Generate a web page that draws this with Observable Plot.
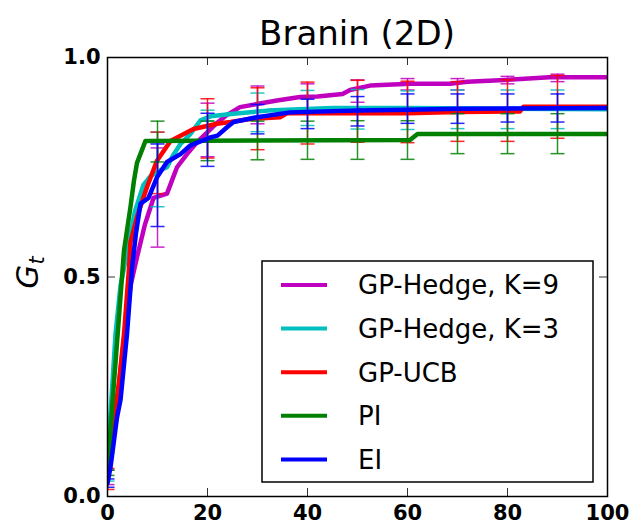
<!DOCTYPE html>
<html><head><meta charset="utf-8">
<script src="https://cdn.jsdelivr.net/npm/d3@7"></script>
<script src="https://cdn.jsdelivr.net/npm/@observablehq/plot@0.6"></script>
<style>body{margin:0;background:#fff;}</style>
</head><body><div id="chart"></div>
<script>
const seriesNames = ["GP-Hedge, K=9", "GP-Hedge, K=3", "GP-UCB", "PI", "EI"];
const seriesColors = ["#bf00bf", "#00bfbf", "#ff0000", "#008000", "#0000ff"];

const tHedge9 = [0, 1, 1.6, 3, 4.6, 5.9, 7.5, 9.2, 10.5, 11.9, 12.9, 13.9, 15.9, 17.9, 20, 22, 24, 26.5, 29.9, 33.9, 38.5, 42, 47, 48.5, 52.5, 60.5, 68.5, 72, 78.4, 88.4, 100];
const gHedge9 = [0.04, 0.12, 0.18, 0.33, 0.48, 0.545, 0.62, 0.68, 0.685, 0.69, 0.72, 0.75, 0.78, 0.807, 0.83, 0.852, 0.87, 0.887, 0.894, 0.902, 0.91, 0.911, 0.917, 0.926, 0.936, 0.94, 0.94, 0.945, 0.948, 0.955, 0.955];

const tHedge3 = [0, 0.5, 1.6, 2.6, 4.3, 5.5, 7.2, 8.6, 10.9, 11.9, 13, 14.6, 16.6, 18.6, 20.6, 25.2, 32, 45, 60, 100];
const gHedge3 = [0.07, 0.17, 0.37, 0.48, 0.58, 0.65, 0.71, 0.73, 0.745, 0.75, 0.775, 0.803, 0.826, 0.857, 0.866, 0.872, 0.879, 0.885, 0.885, 0.882];

const tUCB = [0, 0.9, 2.3, 3.3, 4.3, 4.6, 6, 7.9, 9.9, 12.6, 14.6, 17.2, 21.9, 24.6, 28.5, 34.5, 35.9, 60, 70, 82.5, 83.2, 100];
const gUCB = [0.04, 0.14, 0.26, 0.37, 0.52, 0.58, 0.64, 0.705, 0.765, 0.81, 0.822, 0.837, 0.849, 0.853, 0.86, 0.864, 0.873, 0.873, 0.876, 0.877, 0.888, 0.888];

const tPI = [0, 0.3, 1.3, 2.3, 3.3, 4.6, 5.3, 5.9, 7.6, 60.5, 62, 100];
const gPI = [0.05, 0.105, 0.26, 0.41, 0.56, 0.66, 0.72, 0.76, 0.81, 0.812, 0.826, 0.826];

const tEI = [0, 0.6, 1.9, 2.6, 3.9, 4.9, 5.7, 6.6, 8.2, 9.9, 11.9, 14.6, 16.6, 20.6, 22, 23.9, 25.2, 29.9, 36.5, 50, 60, 70, 100];
const gEI = [0.03, 0.067, 0.18, 0.22, 0.37, 0.52, 0.6, 0.667, 0.68, 0.727, 0.762, 0.78, 0.80, 0.818, 0.822, 0.841, 0.853, 0.864, 0.875, 0.879, 0.881, 0.883, 0.885];

const errT = [0, 10, 20, 30, 40, 50, 60, 70, 80, 90];
const loHedge9 = [0.027, 0.568, 0.774, 0.849, 0.875, 0.898, 0.926, 0.926, 0.94, 0.945];
const hiHedge9 = [0.06, 0.794, 0.896, 0.935, 0.94, 0.949, 0.952, 0.952, 0.957, 0.962];
const loHedge3 = [0.035, 0.66, 0.856, 0.831, 0.845, 0.837, 0.836, 0.838, 0.838, 0.838];
const hiHedge3 = [0.1, 0.83, 0.88, 0.919, 0.925, 0.927, 0.924, 0.926, 0.926, 0.926];
const loUCB = [0.016, 0.69, 0.771, 0.79, 0.803, 0.807, 0.806, 0.809, 0.809, 0.816];
const hiUCB = [0.064, 0.83, 0.906, 0.931, 0.944, 0.948, 0.946, 0.945, 0.949, 0.959];
const loPI = [0.048, 0.762, 0.765, 0.767, 0.768, 0.768, 0.768, 0.781, 0.781, 0.781];
const hiPI = [0.06, 0.855, 0.855, 0.855, 0.855, 0.856, 0.856, 0.872, 0.872, 0.872];
const loEI = [0.021, 0.615, 0.752, 0.826, 0.838, 0.844, 0.85, 0.85, 0.853, 0.853];
const hiEI = [0.04, 0.803, 0.873, 0.893, 0.905, 0.911, 0.917, 0.917, 0.917, 0.917];

const xTicks = [0, 20, 40, 60, 80, 100];
const yTicks = [0, 0.5, 1];
const yTickLabels = ["0.0", "0.5", "1.0"];

const lineT = [tHedge9, tHedge3, tUCB, tPI, tEI];
const lineG = [gHedge9, gHedge3, gUCB, gPI, gEI];
const errLo = [loHedge9, loHedge3, loUCB, loPI, loEI];
const errHi = [hiHedge9, hiHedge3, hiUCB, hiPI, hiEI];

const W = 637, H = 527;
const mL = 107, mR = 30, mT = 57, mB = 31;
const fw = W - mL - mR, fh = H - mT - mB;

const cap = {draw(ctx, size) { const r = Math.sqrt(size / Math.PI); ctx.moveTo(-r, 0); ctx.lineTo(r, 0); }};

const marks = [];
seriesNames.forEach((name, i) => {
  const color = seriesColors[i];
  const line = lineT[i].map((t, j) => ({t, g: lineG[i][j]}));
  const err = errT.map((t, j) => ({t, lo: errLo[i][j], hi: errHi[i][j]}));
  marks.push(Plot.ruleX(err, {x: "t", y1: "lo", y2: "hi", stroke: color, strokeWidth: 1.5, strokeOpacity: 0.85, clip: true}));
  marks.push(Plot.dot(err, {x: "t", y: "lo", symbol: cap, r: 7, stroke: color, fill: "none", strokeWidth: 1.5, strokeOpacity: 0.85, clip: true}));
  marks.push(Plot.dot(err, {x: "t", y: "hi", symbol: cap, r: 7, stroke: color, fill: "none", strokeWidth: 1.5, strokeOpacity: 0.85, clip: true}));
  marks.push(Plot.line(line, {x: "t", y: "g", stroke: color, strokeWidth: 4.5, strokeLinejoin: "round", clip: true}));
});

marks.push(Plot.ruleX(xTicks, {x: d => d, insetTop: fh - 8, stroke: "#333", strokeWidth: 1}));
marks.push(Plot.ruleX(xTicks, {x: d => d, insetBottom: fh - 8, stroke: "#333", strokeWidth: 1}));
marks.push(Plot.ruleY(yTicks, {y: d => d, insetRight: fw - 8, stroke: "#333", strokeWidth: 1}));
marks.push(Plot.ruleY(yTicks, {y: d => d, insetLeft: fw - 8, stroke: "#333", strokeWidth: 1}));
marks.push(Plot.frame({stroke: "#000", strokeWidth: 1.5}));
marks.push(Plot.axisX(xTicks, {tickSize: 0, tickPadding: 9, fontSize: 21, fontWeight: "bold", fill: "#000"}));
marks.push(Plot.axisY(yTicks, {tickSize: 0, tickPadding: 7, fontSize: 21, fontWeight: "bold", fill: "#000", tickFormat: d => yTickLabels[yTicks.indexOf(d)]}));

const plot = Plot.plot({
  width: W, height: H,
  marginLeft: mL, marginRight: mR, marginTop: mT, marginBottom: mB,
  x: {domain: [0, 100], label: null},
  y: {domain: [0, 1], label: null},
  style: {fontFamily: "DejaVu Sans", background: "#fff", overflow: "visible"},
  marks
});

const svg = d3.select(plot);
// title
svg.append("text").attr("x", mL + fw / 2).attr("y", 45).attr("text-anchor", "middle")
  .attr("font-family", "DejaVu Sans").attr("font-size", 34).attr("fill", "#000").text("Branin (2D)");
// y label
const yl = svg.append("text").attr("transform", `translate(38,${mT + fh / 2 - 4}) rotate(-90)`)
  .attr("text-anchor", "middle").attr("font-family", "DejaVu Sans").attr("font-size", 31)
  .attr("font-style", "italic").attr("fill", "#000");
yl.append("tspan").text("G");
yl.append("tspan").attr("dy", "0.3em").attr("font-size", 21).text("t");

// legend
const lg = svg.append("g");
lg.append("rect").attr("x", 262).attr("y", 261).attr("width", 331).attr("height", 221)
  .attr("fill", "#fff").attr("stroke", "#000").attr("stroke-width", 1.5);
seriesNames.forEach((name, i) => {
  const cy = 285 + i * 43.6;
  lg.append("line").attr("x1", 281).attr("x2", 327).attr("y1", cy).attr("y2", cy)
    .attr("stroke", seriesColors[i]).attr("stroke-width", 4);
  lg.append("text").attr("x", 358).attr("y", cy).attr("dy", "0.36em").attr("text-anchor", "start")
    .attr("font-family", "DejaVu Sans").attr("font-size", 26).attr("fill", "#000").text(name);
});

document.getElementById("chart").appendChild(plot);
</script>
</body></html>
